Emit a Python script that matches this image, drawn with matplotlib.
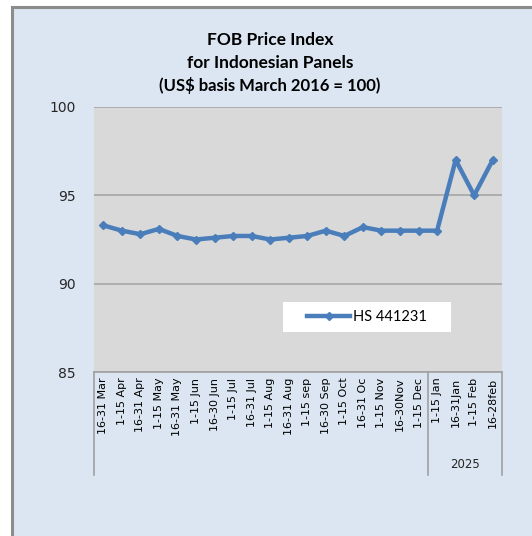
import matplotlib
matplotlib.use("Agg")
import matplotlib.pyplot as plt
import matplotlib.transforms as mtransforms
from matplotlib.patches import Rectangle

categories = ["16-31 Mar", "1-15 Apr", "16-31 Apr", "1-15 May", "16-31 May",
              "1-15 Jun", "16-30 Jun", "1-15 Jul", "16-31 Jul", "1-15 Aug",
              "16-31 Aug", "1-15 sep", "16-30 Sep", "1-15 Oct", "16-31 Oc",
              "1-15 Nov", "16-30Nov", "1-15 Dec", "1-15 Jan", "16-31Jan",
              "1-15 Feb", "16-28feb"]
values = [93.3, 93.0, 92.8, 93.1, 92.7, 92.5, 92.6, 92.7, 92.7, 92.5,
          92.6, 92.7, 93.0, 92.7, 93.2, 93.0, 93.0, 93.0, 93.0, 97.0,
          95.0, 97.0]
series_name = "HS 441231"
group_label = "2025"
group_start = 18  # index of first category in the 2025 group
yticks = [85, 90, 95, 100]

W, H = 532, 536
fig = plt.figure(figsize=(W / 100, H / 100), dpi=100, facecolor="white")

# outer chart area
bg = Rectangle((12 / W, -0.05), 1.1, 1 - 7 / H + 0.05,
               transform=fig.transFigure, facecolor="#DCE6F2",
               edgecolor="#8C8C8C", linewidth=2.2, zorder=-10)
fig.patches.append(bg)

ax = fig.add_axes([94 / W, 1 - 372 / H, 408 / W, 265 / H])
ax.set_zorder(5)
ax.set_facecolor("#D9D9D9")
x = list(range(len(categories)))
line, = ax.plot(x, values, color="#4A7EBB", linewidth=3.2, marker="D",
                markersize=4.5, label=series_name, zorder=3)

ax.set_xlim(-0.5, len(categories) - 0.5)
ax.set_ylim(85, 100)
ax.set_yticks(yticks)
ax.set_yticklabels([str(v) for v in yticks], fontsize=10, color="#262626",
                   family="DejaVu Sans")
ax.set_xticks(x)
ax.set_xticklabels(categories, rotation=90, fontsize=8, family="DejaVu Sans",
                   color="black")
ax.tick_params(axis="both", length=0)
ax.tick_params(axis="x", pad=4)
ax.tick_params(axis="y", pad=13)
ax.yaxis.grid(True, color="#A6A6A6", linewidth=1.2)
ax.set_axisbelow(True)
for s in ["left", "right", "top"]:
    ax.spines[s].set_visible(False)
ax.spines["bottom"].set_color("#A0A0A0")
ax.spines["bottom"].set_linewidth(1.2)

# category group separators
trans = mtransforms.blended_transform_factory(ax.transData, ax.transAxes)
ybot = (372 - 475) / 265
for sx in [-0.5, group_start - 0.5, len(categories) - 0.5]:
    ax.plot([sx, sx], [0, ybot], color="#A0A0A0", linewidth=1.2,
            transform=trans, clip_on=False)
ax.text((group_start + len(categories) - 1) / 2, (372 - 465) / 265, group_label,
        transform=trans, ha="center", va="center", fontsize=8.5,
        color="#262626", family="DejaVu Sans")

# legend with white box
ax.add_patch(Rectangle(((283 - 94) / 408, (372 - 332) / 265), 168 / 408, 30 / 265,
                       transform=ax.transAxes, facecolor="white",
                       edgecolor="none", zorder=4))
leg = ax.legend(loc="center", bbox_to_anchor=((367 - 94) / 408, (372 - 317) / 265),
                frameon=False, handlelength=3.0, handletextpad=0.2,
                prop={"family": "Lato", "size": 10.5})
leg.set_zorder(5)

fig.text(270 / W, 1 - 40 / H, "FOB Price Index", ha="center", va="center",
         fontsize=12.5, fontweight="bold", family="Lato")
fig.text(270 / W, 1 - 63 / H, "for Indonesian Panels", ha="center", va="center",
         fontsize=12.5, fontweight="bold", family="Lato")
fig.text(270 / W, 1 - 86 / H, "(US$ basis March 2016 = 100)", ha="center",
         va="center", fontsize=12, fontweight="bold", family="Lato")

fig.savefig("out.png", dpi=100, facecolor="white")
